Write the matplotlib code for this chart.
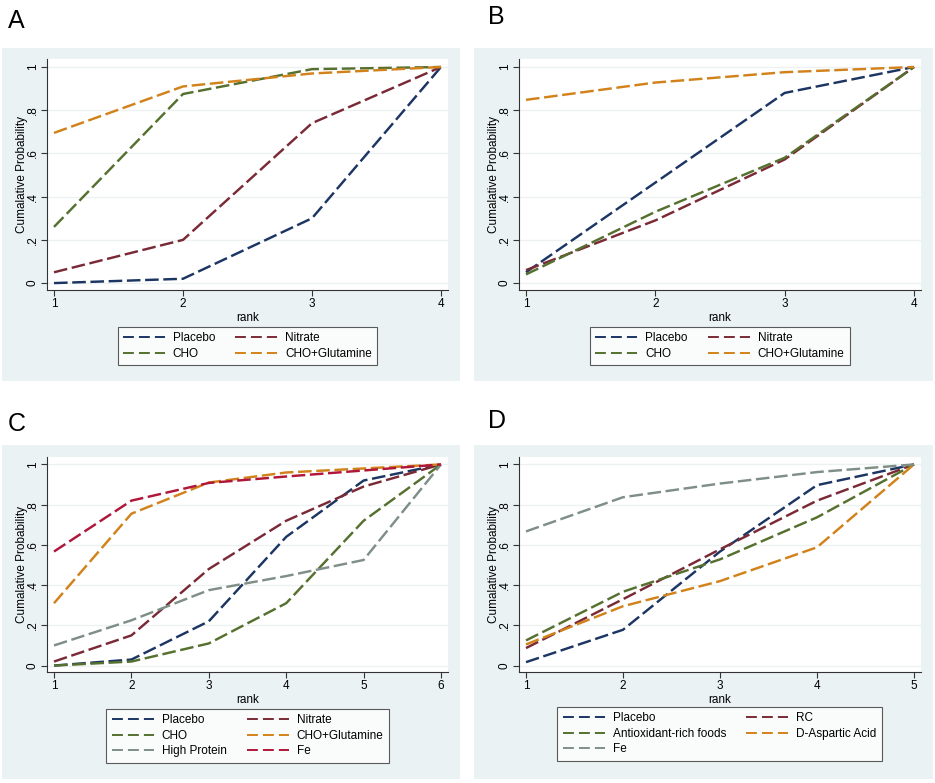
import matplotlib
matplotlib.use("Agg")
import matplotlib.pyplot as plt
from matplotlib.patches import Rectangle
from matplotlib.lines import Line2D

plt.rcParams['font.family'] = ['Liberation Sans', 'DejaVu Sans']

# --- data ---
ranks_a = [1, 2, 3, 4]
a_placebo = [0.00, 0.02, 0.30, 1.00]
a_nitrate = [0.05, 0.20, 0.74, 1.00]
a_cho = [0.26, 0.875, 0.99, 1.00]
a_cho_glut = [0.695, 0.91, 0.97, 1.00]

ranks_b = [1, 2, 3, 4]
b_placebo = [0.05, 0.465, 0.88, 1.00]
b_nitrate = [0.06, 0.29, 0.572, 1.00]
b_cho = [0.04, 0.33, 0.58, 1.00]
b_cho_glut = [0.848, 0.928, 0.976, 1.00]

ranks_c = [1, 2, 3, 4, 5, 6]
c_placebo = [0.00, 0.03, 0.22, 0.64, 0.92, 1.00]
c_nitrate = [0.02, 0.15, 0.48, 0.72, 0.89, 1.00]
c_cho = [0.00, 0.02, 0.11, 0.31, 0.72, 1.00]
c_cho_glut = [0.31, 0.755, 0.91, 0.96, 0.98, 1.00]
c_high_protein = [0.10, 0.225, 0.375, 0.445, 0.525, 1.00]
c_fe = [0.567, 0.82, 0.908, 0.94, 0.97, 1.00]

ranks_d = [1, 2, 3, 4, 5]
d_placebo = [0.017, 0.178, 0.567, 0.897, 1.00]
d_rc = [0.087, 0.33, 0.578, 0.82, 1.00]
d_antiox = [0.125, 0.367, 0.528, 0.737, 1.00]
d_dasp = [0.105, 0.295, 0.42, 0.588, 1.00]
d_fe = [0.667, 0.837, 0.905, 0.962, 1.00]

# Stata s2color-like palette (as it looks in the picture)
NAVY = '#1c3563'
MAROON = '#7a2a36'
GREEN = '#55702f'
ORANGE = '#d2821a'
TEAL = '#7f8f88'
CRANBERRY = '#b0163a'
BG = '#eaf2f3'
GRID = '#edf1f2'

W, H = 935, 783
fig = plt.figure(figsize=(W / 100, H / 100), dpi=100)


def px_rect(x0, y0, x1, y1):
    return [x0 / W, 1 - y1 / H, (x1 - x0) / W, (y1 - y0) / H]


def panel(letter, bg, axbox, ranks, series, leg_center, leg_top, label_xy):
    x0, y0, x1, y1 = bg
    fig.patches.append(Rectangle((x0 / W, 1 - y1 / H), (x1 - x0) / W, (y1 - y0) / H,
                                 transform=fig.transFigure, facecolor=BG,
                                 edgecolor='none', zorder=-5))
    fig.text(label_xy[0] / W, 1 - label_xy[1] / H, letter, fontsize=18,
             ha='left', va='center')
    ax = fig.add_axes(px_rect(*axbox))
    ax.set_zorder(2)
    ax.set_facecolor('white')
    n = len(ranks)
    span_px = axbox[2] - axbox[0]
    unit = (span_px - 14) / (n - 1)
    pad = 7 / unit
    ax.set_xlim(1 - pad, n + pad)
    ax.set_ylim(-0.032, 1.037)
    proxies = []
    for name, vals, col in series:
        ax.plot(ranks, vals, color=col, lw=1.75, dashes=(5.6, 1.9))
        proxies.append(Line2D([], [], color=col, lw=1.4, dashes=(5.6, 2.6), label=name))
    ax.set_yticks([0, 0.2, 0.4, 0.6, 0.8, 1])
    ax.set_yticklabels(['0', '.2', '.4', '.6', '.8', '1'], rotation=90, va='center')
    ax.set_xticks(ranks)
    ax.tick_params(labelsize=8.5, length=4, width=0.8, color='#333333', pad=2)
    ax.grid(axis='y', color=GRID, lw=1)
    ax.set_axisbelow(True)
    for s in ['top', 'right']:
        ax.spines[s].set_visible(False)
    for s in ['left', 'bottom']:
        ax.spines[s].set_color('#333333')
        ax.spines[s].set_linewidth(0.8)
    ax.set_ylabel('Cumalative Probability', fontsize=8.5, labelpad=-1)
    ax.set_xlabel('rank', fontsize=8.5, labelpad=1)
    # legend fills row by row, as in Stata
    order = proxies[0::2] + proxies[1::2]
    leg = fig.legend(handles=order, loc='upper center', ncol=2,
                     bbox_to_anchor=(leg_center / W, 1 - leg_top / H),
                     fontsize=8.5, frameon=True, fancybox=False,
                     handlelength=3.55, handletextpad=0.68, columnspacing=1.7,
                     borderpad=0.45, labelspacing=0.3, borderaxespad=0)
    leg.get_frame().set_edgecolor('#333333')
    leg.get_frame().set_linewidth(0.8)
    leg.set_zorder(3)
    return ax


panel('A', (2, 48, 460, 381), (47, 59, 448, 290), ranks_a,
      [('Placebo', a_placebo, NAVY), ('Nitrate', a_nitrate, MAROON),
       ('CHO', a_cho, GREEN), ('CHO+Glutamine', a_cho_glut, ORANGE)],
      247.5, 327, (8, 21))

panel('B', (474, 48, 933, 381), (519, 59, 921, 290), ranks_b,
      [('Placebo', b_placebo, NAVY), ('Nitrate', b_nitrate, MAROON),
       ('CHO', b_cho, GREEN), ('CHO+Glutamine', b_cho_glut, ORANGE)],
      720, 327, (488, 17))

panel('C', (2, 445, 460, 779), (47, 457, 448, 672), ranks_c,
      [('Placebo', c_placebo, NAVY), ('Nitrate', c_nitrate, MAROON),
       ('CHO', c_cho, GREEN), ('CHO+Glutamine', c_cho_glut, ORANGE),
       ('High Protein', c_high_protein, TEAL), ('Fe', c_fe, CRANBERRY)],
      247.5, 709, (8, 424))

panel('D', (474, 445, 933, 779), (519, 457, 921, 672), ranks_d,
      [('Placebo', d_placebo, NAVY), ('RC', d_rc, MAROON),
       ('Antioxidant-rich foods', d_antiox, GREEN), ('D-Aspartic Acid', d_dasp, ORANGE),
       ('Fe', d_fe, TEAL)],
      719.5, 707, (488, 421))

fig.savefig('out.png', dpi=100, facecolor='white')
